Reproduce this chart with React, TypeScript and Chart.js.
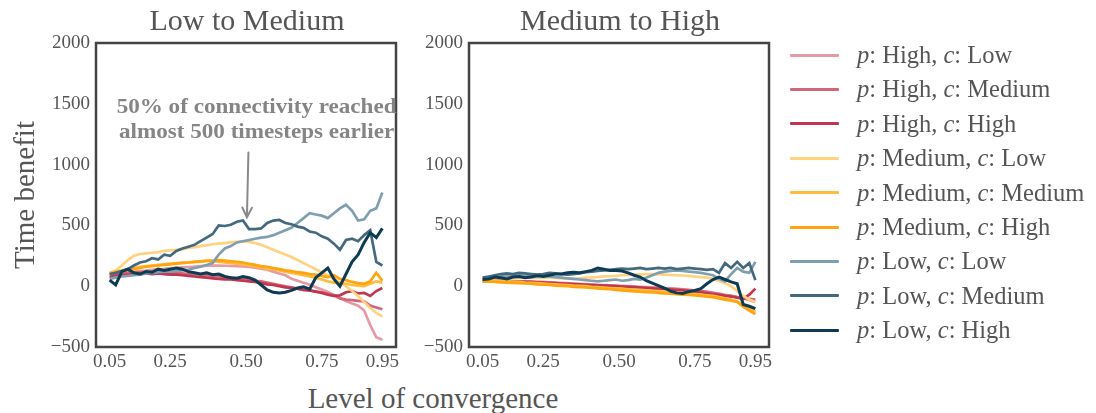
import React, { useEffect, useRef } from "react";
import { Chart, registerables } from "chart.js";

Chart.register(...registerables);

// Level of convergence (shared x values for every series)
const convergence = [
  0.05, 0.07, 0.09, 0.11, 0.13, 0.15, 0.17, 0.19, 0.21, 0.23, 0.25, 0.27, 0.29, 0.31, 0.33, 0.35,
  0.37, 0.39, 0.41, 0.43, 0.45, 0.47, 0.49, 0.51, 0.53, 0.55, 0.57, 0.59, 0.61, 0.63, 0.65, 0.67,
  0.69, 0.71, 0.73, 0.75, 0.77, 0.79, 0.81, 0.83, 0.85, 0.87, 0.89, 0.91, 0.93, 0.95,
];
const xTickValues = [0.05, 0.25, 0.5, 0.75, 0.95];
const yMin = -500;
const yMax = 2000;
const yStep = 500;

const pLevels = ["High", "High", "High", "Medium", "Medium", "Medium", "Low", "Low", "Low"];
const cLevels = ["Low", "Medium", "High", "Low", "Medium", "High", "Low", "Medium", "High"];
const lineColors = [
  "#e79aa6", "#d3677a", "#c1364f",
  "#ffd27f", "#ffbb3d", "#ffa40d",
  "#7f9fb0", "#43697f", "#0e3b54",
];

// ---- Low to Medium: time benefit per configuration ----
const lmHighLow = [105, 100, 110, 115, 118, 125, 128, 135, 140, 142, 148, 150, 155, 158, 162, 165, 168, 170, 170, 168, 166, 165, 162, 158, 152, 145, 135, 120, 105, 90, 62, 45, 28, 12, -8, -28, -48, -72, -98, -122, -142, -160, -200, -320, -420, -440];
const lmHighMedium = [95, 100, 105, 110, 110, 115, 115, 120, 115, 115, 110, 110, 105, 100, 100, 95, 90, 85, 80, 75, 70, 65, 60, 55, 45, 40, 30, 20, 10, 0, -10, -20, -30, -35, -45, -50, -60, -75, -100, -110, -115, -120, -125, -160, -175, -190];
const lmHighHigh = [75, 85, 90, 95, 100, 100, 105, 100, 105, 100, 95, 95, 90, 85, 80, 75, 70, 65, 60, 55, 55, 50, 45, 40, 35, 25, 15, 10, 0, -10, -15, -20, -30, -35, -45, -55, -70, -80, -75, -50, -40, -60, -55, -80, -40, -15];
const lmMediumLow = [110, 130, 170, 215, 250, 265, 270, 275, 280, 290, 295, 300, 305, 315, 320, 330, 335, 345, 350, 355, 360, 365, 370, 365, 355, 340, 320, 300, 280, 260, 240, 215, 190, 165, 140, 115, 90, 60, 30, 0, -40, -80, -130, -180, -220, -250];
const lmMediumMedium = [110, 120, 130, 140, 150, 160, 165, 170, 175, 180, 185, 190, 195, 195, 200, 200, 205, 205, 200, 195, 190, 185, 180, 170, 165, 155, 145, 140, 130, 120, 110, 100, 90, 80, 70, 55, 40, 30, 25, 20, 10, 5, 0, 20, 40, 30];
const lmMediumHigh = [100, 115, 125, 135, 140, 150, 160, 165, 170, 175, 180, 185, 190, 195, 200, 205, 210, 210, 215, 210, 205, 200, 195, 185, 175, 165, 160, 150, 140, 130, 125, 115, 110, 100, 95, 85, 75, 90, 60, 50, 35, 25, 20, 40, 110, 45];
const lmLowLow = [60, 70, 80, 85, 90, 95, 105, 110, 115, 120, 120, 125, 130, 135, 150, 160, 175, 190, 260, 310, 330, 360, 370, 380, 390, 400, 405, 420, 440, 460, 480, 520, 560, 600, 590, 580, 560, 600, 640, 670, 620, 540, 550, 620, 640, 770];
const lmLowMedium = [100, 110, 125, 140, 170, 195, 205, 230, 220, 260, 250, 290, 310, 325, 340, 370, 400, 430, 500, 495, 505, 530, 540, 470, 470, 475, 520, 540, 545, 520, 510, 490, 480, 450, 440, 410, 390, 350, 300, 380, 390, 370, 420, 460, 200, 170];
const lmLowHigh = [50, 10, 120, 140, 110, 100, 120, 115, 140, 130, 140, 150, 140, 120, 110, 100, 110, 95, 100, 80, 70, 65, 80, 70, 50, 10, -30, -50, -55, -50, -35, -15, -5, -25, 70, 110, 150, 60, 0, 100, 200, 260, 360, 440, 400, 475];

// ---- Medium to High: time benefit per configuration ----
const mhHighLow = [50, 52, 50, 48, 45, 45, 42, 40, 40, 38, 35, 32, 30, 28, 25, 22, 20, 18, 15, 12, 10, 8, 5, 2, 0, -2, -5, -8, -10, -12, -15, -18, -20, -25, -30, -35, -40, -45, -55, -60, -70, -80, -90, -100, -115, -130];
const mhHighMedium = [45, 48, 45, 42, 40, 40, 38, 35, 32, 30, 30, 28, 25, 22, 20, 18, 15, 12, 10, 8, 5, 2, 0, -2, -5, -8, -10, -12, -15, -18, -20, -22, -25, -28, -32, -36, -40, -48, -55, -65, -75, -80, -90, -95, -105, -110];
const mhHighHigh = [40, 45, 48, 45, 42, 40, 38, 36, 35, 32, 30, 28, 25, 22, 20, 18, 15, 12, 10, 8, 5, 2, 0, -3, -5, -8, -12, -15, -18, -22, -25, -28, -32, -35, -40, -45, -50, -58, -65, -70, -80, -85, -95, -105, -70, -20];
const mhMediumLow = [60, 62, 65, 70, 68, 70, 72, 70, 68, 70, 72, 70, 68, 65, 62, 60, 65, 70, 72, 75, 80, 82, 85, 90, 92, 95, 98, 100, 100, 98, 95, 92, 90, 88, 85, 80, 75, 70, 60, 45, 25, 0, -40, -80, -110, -130];
const mhMediumMedium = [50, 48, 45, 42, 40, 38, 35, 30, 28, 25, 22, 18, 15, 12, 10, 5, 2, 0, -5, -8, -12, -15, -18, -20, -25, -28, -30, -35, -38, -40, -45, -48, -52, -55, -60, -65, -70, -75, -80, -90, -100, -110, -125, -150, -180, -210];
const mhMediumHigh = [40, 38, 35, 32, 30, 28, 25, 22, 20, 15, 12, 10, 5, 2, 0, -5, -8, -10, -15, -18, -22, -25, -30, -35, -38, -42, -45, -48, -50, -55, -60, -62, -65, -70, -72, -75, -80, -85, -90, -100, -110, -120, -130, -170, -200, -230];
const mhLowLow = [60, 65, 75, 80, 85, 80, 90, 85, 95, 90, 85, 80, 75, 70, 65, 60, 55, 50, 45, 40, 45, 50, 55, 45, 50, 60, 55, 70, 90, 110, 120, 125, 130, 125, 120, 115, 110, 100, 90, 60, 40, 100, 150, 120, 110, 200];
const mhLowMedium = [70, 80, 90, 100, 105, 100, 110, 105, 100, 95, 100, 110, 105, 100, 95, 100, 105, 115, 120, 125, 130, 135, 140, 145, 140, 145, 150, 140, 145, 150, 145, 150, 140, 145, 150, 145, 140, 135, 140, 110, 190, 150, 200, 150, 190, 50];
const mhLowHigh = [55, 60, 75, 70, 60, 75, 80, 70, 75, 85, 80, 90, 100, 100, 110, 115, 110, 120, 130, 150, 140, 130, 130, 125, 110, 90, 75, 45, 25, 5, -15, -40, -55, -60, -45, -35, -20, 20, 55, 75, 55, 35, 20, -150, -165, -185];

const lowToMediumSeries = [lmHighLow, lmHighMedium, lmHighHigh, lmMediumLow, lmMediumMedium, lmMediumHigh, lmLowLow, lmLowMedium, lmLowHigh];
const mediumToHighSeries = [mhHighLow, mhHighMedium, mhHighHigh, mhMediumLow, mhMediumMedium, mhMediumHigh, mhLowLow, mhLowMedium, mhLowHigh];

// Callout on the first panel
const noteLines = ["50% of connectivity reached", "almost 500 timesteps earlier"];
const noteX = 0.535;
const noteY = [1465, 1262];
const arrowTail = { x: 0.508, y: 1100 };
const arrowHead = { x: 0.503, y: 565 };

const serif = '"Liberation Serif", "Times New Roman", serif';
const textColor = "#555555";
const frameColor = "#444444";

const framePlugin = {
  id: "frame",
  afterDatasetsDraw(chart: any) {
    const { ctx, chartArea: a } = chart;
    ctx.save();
    ctx.strokeStyle = frameColor;
    ctx.lineWidth = 2.5;
    ctx.strokeRect(a.left, a.top, a.right - a.left, a.bottom - a.top);
    ctx.restore();
  },
};

const notePlugin = {
  id: "note",
  afterDatasetsDraw(chart: any) {
    const { ctx } = chart;
    const xs = chart.scales.x;
    const ys = chart.scales.y;
    ctx.save();
    ctx.fillStyle = "#858585";
    ctx.strokeStyle = "#8a8a8a";
    ctx.font = 'bold 21px "Liberation Serif", serif';
    ctx.textAlign = "center";
    ctx.textBaseline = "middle";
    const tx = xs.getPixelForValue(noteX);
    const stretch = 1.1;
    noteLines.forEach((t, i) => {
      ctx.save();
      ctx.translate(tx, ys.getPixelForValue(noteY[i]));
      ctx.scale(stretch, 1);
      ctx.fillText(t, 0, 0);
      ctx.restore();
    });
    const x0 = xs.getPixelForValue(arrowTail.x);
    const y0 = ys.getPixelForValue(arrowTail.y);
    const x1 = xs.getPixelForValue(arrowHead.x);
    const y1 = ys.getPixelForValue(arrowHead.y);
    ctx.lineWidth = 2;
    ctx.lineCap = "round";
    ctx.beginPath();
    ctx.moveTo(x0, y0);
    ctx.lineTo(x1, y1);
    const ang = Math.atan2(y1 - y0, x1 - x0);
    const len = 11;
    ctx.moveTo(x1 - len * Math.cos(ang - 0.45), y1 - len * Math.sin(ang - 0.45));
    ctx.lineTo(x1, y1);
    ctx.lineTo(x1 - len * Math.cos(ang + 0.45), y1 - len * Math.sin(ang + 0.45));
    ctx.stroke();
    ctx.restore();
  },
};

function Panel({ left, series, note }: { left: number; series: number[][]; note: boolean }) {
  const ref = useRef<HTMLCanvasElement>(null);
  useEffect(() => {
    const chart = new Chart(ref.current as HTMLCanvasElement, {
      type: "line",
      data: {
        datasets: series.map((vals, i) => ({
          label: `p: ${pLevels[i]}, c: ${cLevels[i]}`,
          data: vals.map((v, j) => ({ x: convergence[j], y: v })),
          borderColor: lineColors[i],
          backgroundColor: lineColors[i],
          borderWidth: i === 8 ? 3 : 2.7,
          pointRadius: 0,
          tension: 0,
          fill: false,
          order: 8 - i,
        })),
      },
      options: {
        responsive: false,
        animation: false,
        devicePixelRatio: 1,
        layout: { padding: { left: 0, right: 24, top: 43, bottom: 0 } },
        plugins: { legend: { display: false }, tooltip: { enabled: false } },
        scales: {
          x: {
            type: "linear",
            min: 0.005,
            max: 0.995,
            grid: { display: false, drawTicks: false },
            border: { display: false },
            afterBuildTicks: (s: any) => {
              s.ticks = xTickValues.map((v) => ({ value: v }));
            },
            afterFit: (s: any) => {
              s.height = 33;
            },
            ticks: {
              autoSkip: false,
              maxRotation: 0,
              padding: 4,
              color: textColor,
              font: { family: serif, size: 19 },
              callback: (v: any) => Number(v).toFixed(2),
            },
          },
          y: {
            min: yMin,
            max: yMax,
            grid: { display: false, drawTicks: false },
            border: { display: false },
            afterFit: (s: any) => {
              s.width = 96;
            },
            ticks: {
              stepSize: yStep,
              padding: 6,
              color: textColor,
              font: { family: serif, size: 19 },
              callback: (v: any) => String(v).replace("-", "\u2212"),
            },
          },
        },
      } as any,
      plugins: note ? [framePlugin, notePlugin] : [framePlugin],
    });
    return () => chart.destroy();
  }, []);
  return (
    <canvas
      ref={ref}
      width={420}
      height={380}
      style={{ position: "absolute", left, top: 0, width: 420, height: 380 }}
    />
  );
}

export default function App() {
  const titleStyle = (cx: number): React.CSSProperties => ({
    position: "absolute",
    left: cx - 200,
    top: 3,
    width: 400,
    textAlign: "center",
    fontFamily: serif,
    fontSize: 30,
    lineHeight: "34px",
    color: textColor,
    whiteSpace: "nowrap",
  });
  return (
    <div
      style={{
        position: "absolute",
        left: 0,
        top: 0,
        width: 1096,
        height: 413,
        background: "#ffffff",
        overflow: "hidden",
      }}
    >
      <Panel left={0} series={lowToMediumSeries} note={true} />
      <Panel left={373} series={mediumToHighSeries} note={false} />
      <div style={titleStyle(247)}>Low to Medium</div>
      <div style={titleStyle(620)}>Medium to High</div>
      <div
        style={{
          position: "absolute",
          left: 24 - 150,
          top: 195 - 18,
          width: 300,
          height: 36,
          lineHeight: "36px",
          textAlign: "center",
          transform: "rotate(-90deg)",
          fontFamily: serif,
          fontSize: 29,
          color: textColor,
          whiteSpace: "nowrap",
        }}
      >
        Time benefit
      </div>
      <div
        style={{
          position: "absolute",
          left: 433 - 200,
          top: 398 - 18,
          width: 400,
          height: 36,
          lineHeight: "36px",
          textAlign: "center",
          fontFamily: serif,
          fontSize: 29,
          color: textColor,
          whiteSpace: "nowrap",
        }}
      >
        Level of convergence
      </div>
      {pLevels.map((p, i) => (
        <div
          key={i}
          style={{
            position: "absolute",
            left: 790,
            top: 55 + 34.4 * i - 17,
            height: 34,
            display: "flex",
            alignItems: "center",
            fontFamily: serif,
            fontSize: 24.5,
            color: textColor,
            whiteSpace: "nowrap",
          }}
        >
          <div style={{ width: 49, height: 3, background: lineColors[i], marginRight: 18, borderRadius: 1 }} />
          <span>
            <i>p</i>: {p}, <i>c</i>: {cLevels[i]}
          </span>
        </div>
      ))}
    </div>
  );
}
